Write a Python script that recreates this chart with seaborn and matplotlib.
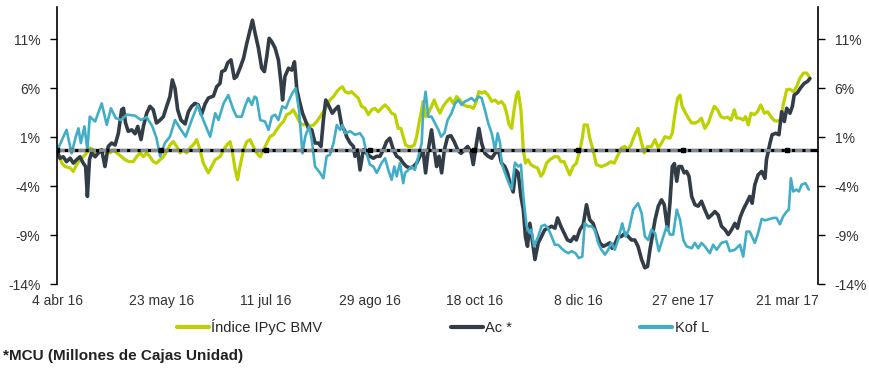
import pandas as pd
import seaborn as sns
import matplotlib.pyplot as plt
from matplotlib.lines import Line2D

# trading-day index (0 = 4 abr 16) and % change
ipc_day = [
    0, 0.4, 1.6, 2.7, 4.4, 5.5, 6.6, 7.7, 8.8, 10,
    11.1, 12.2, 13.3, 14.4, 15.5, 16.7, 17.8, 18.9, 20, 21.7,
    22.8, 24.2, 25.6, 26.7, 27.9, 29, 30.1, 31.2, 32.3, 33.4,
    34.6, 35.7, 36.8, 37.9, 39, 40.2, 41.3, 42.4, 43.5, 44.6,
    45.7, 46.9, 48, 49.1, 50.8, 51.9, 53.1, 54.7, 55.9, 57,
    58.1, 58.9, 59.8, 60.6, 61.4, 62.6, 63.7, 64.8, 65.9, 67,
    68.2, 69.3, 70.4, 71.5, 72.6, 73.7, 74.9, 76, 77.1, 78.2,
    79.3, 80.5, 81.6, 82.7, 83.8, 84.9, 86.1, 87.2, 88.3, 89.4,
    90.5, 91.6, 92.8, 93.9, 95, 95.8, 96.7, 97.8, 98.9, 100,
    101.1, 102.2, 103.4, 104.5, 105.6, 106.7, 107.8, 108.9, 110.1, 111.2,
    112.3, 113.4, 114.5, 115.4, 116.2, 117, 117.9, 119, 119.9, 120.7,
    121.5, 122.4, 122.9, 123.7, 124.6, 125.7, 126.6, 127.4, 128.5, 129.6,
    130.8, 131.9, 133, 134.1, 135.2, 136.4, 137.5, 138.6, 139.7, 140.5,
    141.6, 142.5, 143.6, 144.7, 145.9, 147, 148.1, 149.2, 150.2, 150.9,
    151.7, 152.6, 153.4, 154.2, 154.8, 155.7, 156.5, 157.2, 158.1, 159,
    160.1, 161.3, 162.4, 163.2, 164.3, 165.4, 166.9, 168.2, 169.1, 170.2,
    171.3, 172.1, 173.2, 174.3, 175.5, 176.3, 176.9, 178, 178.8, 179.9,
    181, 182.7, 184.4, 185.9, 187, 188.3, 189.4, 190.6, 191.5, 192.6,
    193.9, 195, 196.2, 197.1, 198.2, 199.5, 200.7, 201.8, 202.9, 204,
    205.7, 206.5, 207.6, 208.3, 209.1, 209.8, 210.7, 211.9, 213, 214.1,
    215.2, 216.3, 217.4, 218.6, 219.7, 220.6, 221.7, 222.8, 223.9, 225,
    226.2, 227.3, 228.1, 229.2, 230.3, 231.1, 232, 232.9, 234, 235.1,
    236.2, 237.4, 238.5, 239.6, 240.7, 241.8, 243, 243.7, 244.9, 246,
    247.1, 248.2, 249.3, 250.5, 251.6, 252.4]
ipc_val = [
    -0.35, -0.6, -1.65, -2.0, -2.15, -2.5, -1.8, -1.3, -1.0, -0.6,
    -0.1, -0.3, -0.6, -0.3, -0.45, -0.3, -0.6, -0.3, -0.6, -1.0,
    -1.3, -1.5, -1.5, -1.0, -0.6, -1.0, -0.6, -1.0, -1.5, -1.65,
    -1.3, -1.0, -0.45, 0.2, 0.55, 0.05, -0.6, -0.3, -0.6, -0.1,
    0.2, 0.75, -0.3, -1.65, -2.65, -2.0, -1.3, -1.0, -0.3, 0.2,
    0.55, -0.6, -2.3, -3.35, -2.0, -0.3, 0.55, 0.75, 0.05, -0.6,
    -1.0, -0.3, 0.4, 1.05, 1.25, 1.75, 2.25, 2.6, 3.3, 3.45,
    3.8, 3.1, 2.45, 2.25, 2.45, 2.1, 2.25, 2.6, 3.1, 3.6,
    4.15, 4.8, 5.15, 5.65, 6.0, 6.15, 5.65, 5.5, 5.65, 5.3,
    5.0, 4.15, 3.95, 3.3, 3.8, 3.95, 3.6, 3.95, 4.3, 3.95,
    3.45, 3.3, 1.9, 1.9, 1.05, 0.2, 0.05, 0.05, 0.2, 1.05,
    2.45, 3.8, 4.65, 3.1, 3.45, 4.15, 4.8, 4.15, 3.45, 4.15,
    4.65, 5.0, 4.45, 5.15, 4.8, 4.3, 4.15, 4.15, 3.95, 4.45,
    5.65, 5.5, 5.65, 5.3, 4.65, 4.8, 4.45, 4.65, 4.2, 3.45,
    2.3, 1.9, 3.8, 5.3, 5.65, 3.8, -0.3, -1.65, -1.3, -1.8,
    -2.0, -2.15, -3.0, -2.65, -1.65, -1.3, -1.0, -1.0, -1.5, -1.5,
    -2.3, -2.85, -2.0, -1.65, -0.3, 0.9, 2.25, 2.25, 0.9, -0.3,
    -1.8, -2.0, -1.8, -1.5, -1.65, -0.8, -0.1, 0.05, -0.3, 0.2,
    1.25, 1.9, 0.4, -0.6, 0.05, 0.05, 0.75, -0.1, 0.4, 1.05,
    0.9, 1.4, 3.8, 5.0, 5.3, 4.15, 3.6, 2.95, 2.45, 2.45,
    2.6, 2.95, 1.9, 2.45, 3.45, 4.15, 3.8, 3.1, 2.95, 3.05,
    2.75, 3.8, 2.95, 2.95, 2.75, 3.1, 2.25, 3.45, 3.3, 3.6,
    4.3, 3.45, 3.6, 3.1, 2.7, 2.65, 2.75, 4.3, 5.85, 5.9,
    5.65, 6.15, 7.0, 7.55, 7.55, 7.2]

ac_day = [
    0, 1, 2.1, 3.2, 4.4, 5.5, 6.6, 7.7, 8.8, 9.6,
    10.2, 10.9, 11.6, 12.8, 13.9, 15, 16.1, 17.2, 18.3, 19.5,
    20.6, 21.7, 22.3, 23, 23.9, 25.1, 26.2, 27.1, 28.2, 29,
    30.1, 31.2, 32.3, 33.4, 34.6, 35.7, 36.8, 37.9, 38.7, 39.6,
    40.5, 41.6, 43, 44.1, 45.2, 46.3, 47.4, 48.5, 49.7, 50.8,
    52.5, 53.6, 54.7, 55.3, 56.4, 57.3, 58.4, 59.5, 60.3, 61.4,
    62.6, 63.7, 64.8, 65.6, 66.5, 67.6, 68.7, 69.6, 70.4, 71.2,
    72.1, 73.2, 74.3, 75.2, 75.7, 76.5, 77.7, 78.8, 79.7, 80.5,
    81.4, 82.4, 83.3, 84.4, 85.5, 86.6, 87.7, 88.6, 89.4, 90.2,
    91.3, 92.4, 93.3, 94.4, 95.6, 96.5, 97.2, 98.4, 99.5, 100,
    100.9, 101.7, 102.8, 103.9, 105, 106.2, 107.3, 108.4, 109.5, 110.6,
    111.7, 112.9, 114, 115.1, 116.2, 117.3, 118.5, 119.6, 120.7, 121.8,
    122.9, 123.7, 124.6, 125.7, 126.6, 127.4, 128.2, 129.1, 130, 131.1,
    132.2, 133.3, 134.5, 135.6, 136.7, 137.8, 138.9, 139.7, 140.8, 141.6,
    142.5, 143.6, 144.7, 145.9, 147, 148.1, 149.2, 150.3, 151.2, 152,
    153.1, 153.9, 154.8, 155.7, 156.5, 157.2, 157.9, 158.7, 159.5, 160.4,
    161.5, 162.6, 163.7, 164.8, 166, 167.1, 168, 169.1, 170.2, 171.3,
    172.4, 173.6, 174.3, 175.5, 176.6, 177.7, 178.8, 179.9, 181, 182.2,
    183.3, 184.4, 185.5, 186.3, 187.4, 188.3, 189.4, 190.6, 191.7, 192.8,
    193.9, 195, 196.2, 197.3, 198.2, 199, 200.7, 201.8, 202.9, 203.8,
    204.9, 205.7, 206.5, 207.2, 208, 208.7, 209.6, 210.5, 211.3, 212.1,
    213, 214.1, 215.2, 216.3, 217.4, 218.6, 219.7, 220.8, 221.9, 223,
    224.2, 225.3, 226.4, 227.5, 228.4, 229.2, 230.3, 231.4, 232.5, 233.3,
    234.2, 235.3, 236.5, 237.6, 238.1, 239.3, 240, 241.2, 242.3, 243.2,
    244.1, 244.9, 246, 246.8, 247.4, 248.5, 249.7, 250.8, 251.9, 252.7]
ac_val = [
    -0.45, -1.15, -1.0, -1.5, -1.15, -1.65, -1.3, -1.0, -1.65, -2.0,
    -5.05, -1.3, -0.6, -1.0, -0.6, -0.3, -2.0, 0.05, 0.4, 0.2,
    1.4, 3.8, 3.95, 2.45, 1.6, 1.75, 1.35, 2.1, 0.75, 2.1,
    3.45, 4.15, 3.8, 2.45, 2.75, 3.1, 4.15, 5.15, 6.85, 6.0,
    3.8, 2.75, 2.35, 3.6, 4.15, 4.45, 4.3, 3.3, 4.4, 5.0,
    5.2, 6.15, 6.5, 7.7, 7.85, 8.6, 8.9, 7.0, 7.2, 8.05,
    9.05, 10.6, 11.95, 12.95, 11.6, 10.1, 8.05, 7.7, 9.25, 11.1,
    10.75, 10.1, 8.9, 6.5, 4.8, 7.2, 8.05, 7.85, 8.7, 5.85,
    4.65, 3.45, 2.75, 1.9, 1.75, 0.4, 0.4, 0.05, 2.75, 4.8,
    4.15, 3.45, 3.8, 4.15, 2.1, 1.7, 1.05, 0.4, 0.05, -0.95,
    -0.3, -2.35, -0.3, -0.65, -0.95, -1.15, -0.95, -0.95, -0.3, 0.55,
    0.9, -0.3, -0.95, -1.15, -1.65, -2.0, -2.15, -2.0, -1.65, -0.95,
    -0.45, -2.65, -0.3, 1.75, -0.3, -2.0, -0.95, -2.65, -0.3, 1.05,
    1.15, 0.55, -0.3, -0.65, -0.3, 0.05, -0.45, -1.8, 0.4, 1.9,
    0.4, -0.65, -0.95, -1.15, -0.65, -0.3, -1.65, -2.0, -2.65, -3.7,
    -4.6, -2.35, -2.65, -5.05, -6.4, -9.15, -10.15, -7.8, -9.5, -11.5,
    -9.8, -9.15, -8.45, -8.3, -8.1, -8.3, -7.25, -8.1, -8.8, -9.5,
    -9.65, -9.15, -9.5, -8.45, -7.95, -5.9, -7.45, -7.8, -8.8, -9.8,
    -10.15, -10.0, -9.8, -10.35, -9.8, -9.15, -9.15, -8.8, -9.15, -9.5,
    -9.5, -10.15, -11.5, -12.35, -12.2, -10.5, -7.45, -6.05, -5.4, -5.9,
    -8.45, -5.75, -2.0, -1.7, -3.5, -2.0, -2.0, -2.65, -2.5, -3.0,
    -5.05, -5.9, -6.05, -5.55, -6.4, -7.25, -6.95, -6.6, -6.95, -8.1,
    -8.45, -8.95, -8.45, -7.8, -8.3, -7.25, -6.4, -5.75, -5.05, -5.75,
    -3.85, -2.85, -2.5, -3.2, -1.3, 0.4, 1.25, 1.4, 1.25, 3.6,
    2.6, 3.95, 3.45, 4.15, 5.3, 5.55, 6.1, 6.5, 6.7, 7.0]

kof_day = [
    0, 3.2, 4.9, 6.3, 7.2, 8, 9.2, 10.2, 11, 12.8,
    15, 16.7, 18.1, 19.7, 21.5, 23.4, 26.2, 28.2, 30.1, 32,
    33.4, 34.6, 36.2, 37.9, 39.6, 41.3, 43.2, 45.2, 47.2, 49.1,
    51.4, 53.1, 54.2, 55.9, 57.5, 59.2, 60.3, 62, 63.1, 64.2,
    65.4, 66.3, 67, 68.2, 69.8, 71, 72.1, 73.2, 74.3, 75.6,
    76.8, 77.9, 79, 80.1, 81.2, 82.4, 83.3, 84.6, 85.5, 86.6,
    88.3, 89.4, 90.5, 91.6, 92.8, 93.9, 95, 95.8, 96.7, 98.4,
    100, 101.7, 102.8, 103.9, 105, 106.2, 107.3, 107.8, 108.9, 110.1,
    111.2, 112.3, 113.2, 114, 115.1, 116.2, 116.8, 117.9, 119, 120.1,
    121.3, 122.4, 122.9, 123.7, 124.6, 125.7, 126.8, 128, 128.9, 130,
    131.1, 132.4, 133.6, 134.7, 135.8, 136.9, 138, 139.1, 140.3, 141.4,
    142.5, 143.6, 144.7, 145.9, 147, 147.9, 148.7, 149.2, 150.3, 151.5,
    152.6, 153.7, 154.8, 155.7, 156.5, 157.6, 158.7, 159.2, 160.1, 161.5,
    162.6, 163.7, 164.8, 166, 167.1, 168.2, 169.3, 170.4, 171.6, 172.7,
    174, 175.1, 176.3, 177.1, 178.3, 179.4, 180.5, 181.6, 182.7, 183.9,
    185, 186.1, 187.2, 188.3, 189.7, 190.8, 191.9, 193.4, 195, 196.2,
    197.3, 198.4, 199.5, 200.7, 202, 203.5, 204.6, 205.7, 206.8, 208,
    209.1, 210.2, 211.3, 213, 214.1, 215.2, 216.3, 217.4, 219.1, 220.2,
    221.4, 223, 224.7, 225.8, 227.5, 229.2, 230.3, 231.4, 232.5, 234.2,
    235.3, 236.5, 237.6, 239.3, 240.4, 241.5, 242.6, 243.7, 244.9, 245.6,
    246.3, 247.1, 248.2, 249, 249.9, 251.2, 252.3]
kof_val = [
    -0.4, 1.75, -0.65, 1.05, 1.9, 0.4, 2.1, -0.3, 3.1, 2.6,
    4.45, 2.25, 3.95, 2.95, 2.75, 3.3, 3.2, 2.75, 3.05, 2.1,
    0.9, -0.95, 0.4, 1.05, 2.75, 1.9, 1.05, 2.75, 4.3, 2.75,
    1.05, 3.45, 2.75, 4.45, 5.3, 3.8, 3.1, 3.1, 4.15, 5.0,
    4.3, 5.15, 5.0, 2.75, 2.6, 1.75, 3.1, 3.3, 2.75, 4.15,
    3.95, 4.8, 5.5, 6.0, 3.8, -0.65, 1.05, 2.1, 0.75, -2.0,
    -2.65, -3.2, -0.95, -0.8, 0.4, 2.25, 1.75, 2.25, 1.4, 1.6,
    1.25, 1.4, 0.9, -0.65, -1.8, -2.0, -2.65, -2.35, -1.65, -1.15,
    -2.35, -3.35, -2.0, -3.0, -1.65, -3.7, -2.65, -2.35, -2.0, -2.35,
    -0.95, 0.4, 3.8, 5.65, 3.1, 3.1, 2.45, 1.75, 1.05, 1.4,
    2.75, 3.45, 4.45, 4.8, 4.3, 4.65, 4.8, 5.0, 4.65, 5.15,
    5.0, 3.8, 2.45, 1.4, -0.3, 1.4, 0.4, -1.65, -2.6, -3.6,
    -4.3, -1.6, -2.0, -1.8, -5.05, -8.1, -8.8, -8.45, -10.15, -9.15,
    -8.1, -7.95, -8.3, -9.15, -10.0, -10.0, -10.35, -10.65, -10.85, -10.65,
    -10.85, -11.35, -11.2, -7.8, -8.1, -8.1, -8.45, -9.8, -10.5, -11.0,
    -10.5, -9.8, -10.5, -9.5, -7.8, -9.15, -8.45, -6.4, -5.75, -6.75,
    -9.15, -9.5, -8.45, -8.8, -10.65, -9.15, -8.1, -8.95, -8.95, -6.4,
    -7.45, -9.5, -10.15, -10.35, -9.8, -10.35, -9.8, -10.15, -10.85, -10.0,
    -10.5, -9.8, -9.65, -10.65, -10.5, -10.0, -11.2, -8.65, -8.65, -9.8,
    -8.8, -7.35, -7.5, -7.35, -7.25, -7.25, -7.9, -7.1, -6.6, -6.4,
    -3.2, -4.55, -4.35, -4.55, -3.85, -3.7, -4.35]

tick_days = [0, 35, 70, 105, 140, 175, 210, 245]
tick_labels = ["4 abr 16", "23 may 16", "11 jul 16", "29 ago 16",
               "18 oct 16", "8 dic 16", "27 ene 17", "21 mar 17"]
y_ticks = [-14, -9, -4, 1, 6, 11]
base_level = -0.35

sns.set_style("white")
plt.rcParams["font.family"] = ["Liberation Sans", "DejaVu Sans"]

fig = plt.figure(figsize=(8.69, 3.70), dpi=100)
ax = fig.add_axes([57 / 869, 1 - 284 / 370, 761 / 869, 277 / 370])

series = [
    ("Índice IPyC BMV", ipc_day, ipc_val, "#bdd000", 2.3),
    ("Ac *", ac_day, ac_val, "#333d47", 2.6),
    ("Kof L", kof_day, kof_val, "#41adc7", 1.9),
]
for name, days, vals, color, lw in series:
    df = pd.DataFrame({"dia": days, "valor": vals})
    sns.lineplot(data=df, x="dia", y="valor", ax=ax, color=color,
                 linewidth=lw, sort=False, estimator=None)

# zero line: black with grey dashes on top, square marks at the date ticks
last_day = max(ipc_day[-1], ac_day[-1], kof_day[-1])
ax.axhline(base_level, color="black", lw=2.4, zorder=5)
ax.plot([0, last_day], [base_level, base_level], color="#7f8a95", lw=2.2,
        dashes=(2.4, 1.0), zorder=6)
ax.plot(tick_days, [base_level] * len(tick_days), "s", color="black",
        ms=3.5, zorder=7)

ax.set_xlim(0, 255.4)
ax.set_ylim(-14, 14.3)
ax.set_xticks(tick_days, tick_labels)
ax.set_yticks(y_ticks, [f"{t}%" for t in y_ticks])
ax.set_xlabel("")
ax.set_ylabel("")
ax.tick_params(axis="x", length=0, pad=7, labelsize=10, labelcolor="#333333")
ax.tick_params(axis="y", left=True, right=True, labelleft=True, labelright=True,
               direction="out", length=5, width=1, pad=7, labelsize=10,
               labelcolor="#333333", color="black")
for side in ["top", "bottom"]:
    ax.spines[side].set_visible(False)
for side in ["left", "right"]:
    ax.spines[side].set_color("black")
    ax.spines[side].set_linewidth(1.2)

handles = [Line2D([], [], color=c, lw=3) for _, _, _, c, _ in series]
labels = [s[0] for s in series]
fig.legend(handles, labels, loc="center", bbox_to_anchor=(443 / 869, 1 - 327 / 370),
           ncol=3, frameon=False, fontsize=10.5, handlelength=2.2,
           handletextpad=0.15, columnspacing=8.8)

fig.text(3 / 869, 1 - 356 / 370, "*MCU (Millones de Cajas Unidad)",
         fontsize=11, fontweight="bold", va="center", ha="left", color="#222222")

fig.savefig("out.png", dpi=100)
